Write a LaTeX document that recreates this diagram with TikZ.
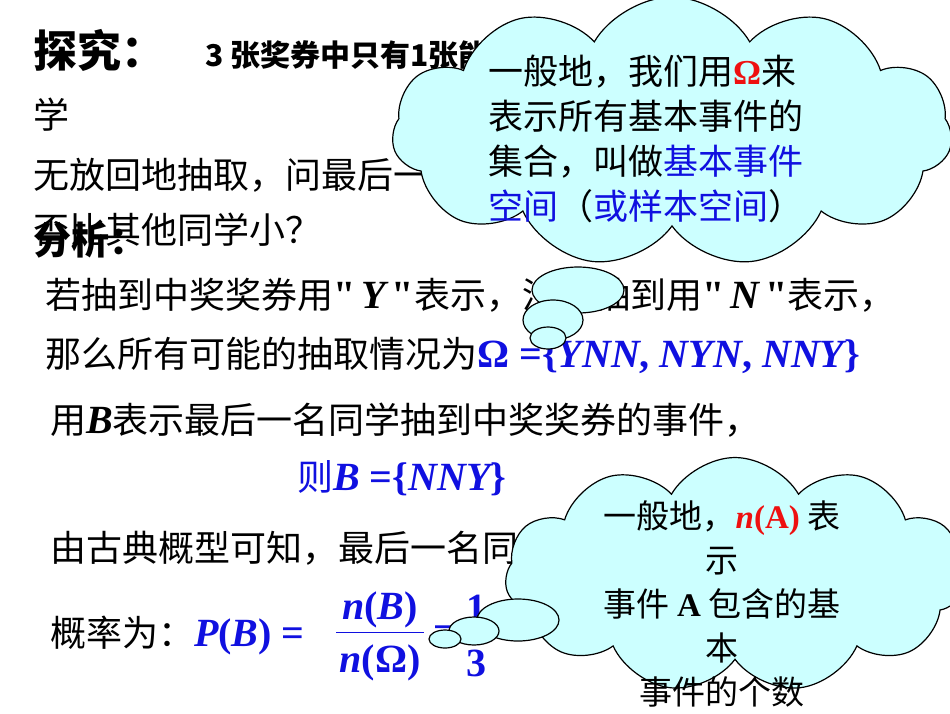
\documentclass[tikz,border=0pt]{standalone}
\usepackage{fontspec}
\setmainfont{Liberation Serif}
\newfontfamily\cjk{Noto Sans CJK SC}
\usetikzlibrary{shapes.symbols,shapes.geometric,calc}
\definecolor{cloudfill}{HTML}{CCFFFF}
\definecolor{myblue}{HTML}{1010E0}
\definecolor{myred}{HTML}{EE1010}
\tikzset{
  txt/.style={anchor=west,inner sep=0pt,font=\fontsize{36}{38}\selectfont\cjk},
  mtxt/.style={inner sep=0pt,text=myblue,font=\fontsize{40}{40}\selectfont\rmfamily\bfseries},
  cloudbox/.style={cloud,cloud puffs=11,cloud puff arc=120,draw=black,line width=1.2pt,fill=cloudfill,aspect=2},
  bubble/.style={ellipse,draw=black,line width=1.2pt,fill=cloudfill,inner sep=0pt},
  ctext/.style={align=center,inner sep=0pt,font=\fontsize{35}{45}\selectfont\cjk}
}
\newcommand{\mi}[1]{{\fontsize{40}{40}\selectfont\rmfamily\bfseries\itshape #1}}
\newcommand{\mr}[1]{{\fontsize{40}{40}\selectfont\rmfamily\bfseries #1}}
\newcommand{\qt}{{\fontsize{40}{40}\selectfont\rmfamily\bfseries\textquotedbl}}
\begin{document}
\begin{tikzpicture}[x=1pt,y=-1pt]
\useasboundingbox (0,0) rectangle (950,713);
\node[txt,font=\fontsize{44}{44}\selectfont\cjk\bfseries] (t0) at (33,50) {探究：};
\node[txt,font=\fontsize{30}{30}\selectfont\cjk\bfseries] (t1) at (205,56) {3 张奖券中只有1张能中奖，现分别由3名同};
\node[txt] (t2) at (33,115) {学};
\node[txt] (t3) at (33,175) {无放回地抽取，问最后一名同学抽到中奖};
\node[txt] (t4) at (33,230) {否比其他同学小？};
\node[txt,font=\fontsize{38}{38}\selectfont\cjk\bfseries] (t5) at (33,240) {分析：};
\node[txt] (t6) at (45,295) {若抽到中奖奖券用\qt\,\mi{Y}\,\qt 表示，没有抽到用\qt\,\mi{N}\,\qt 表示，};
\node[txt] (t7) at (45,355) {那么所有可能的抽取情况为\textcolor{myblue}{\mr{Ω =\{}\mi{YNN}\mr{, }\mi{NYN}\mr{, }\mi{NNY}\mr{\}}}};
\node[txt] (t8) at (50,420) {用\mi{B}表示最后一名同学抽到中奖奖券的事件，};
\node[txt,text=myblue] (t9) at (297,478) {则\mi{B}\mr{ =\{}\mi{NNY}\mr{\}}};
\node[txt] (t10) at (50,548) {由古典概型可知，最后一名同学抽到中奖};
\node[txt] (t11) at (50,635) {概率为：\textcolor{myblue}{\mi{P}\mr{(}\mi{B}\mr{) =}}};
\node[mtxt] (num) at (380,610) {\textit{n}(\textit{B})};
\node[mtxt] (den) at (380,663) {\textit{n}(Ω)};
\coordinate (fl) at ($(num.south west)+(-6,4)$);
\coordinate (fr) at ($(num.south east)+(6,4)$);
\draw[myblue,line width=1.2pt] (fl) -- (fr);
\node[mtxt] (eq2) at (445,635) {=};
\node[mtxt] (one) at (476,608) {1};
\node[mtxt] (three) at (476,663) {3};
% cloud 1
\node[cloudbox,minimum width=560,minimum height=270] (c1) at (672,132) {};
\node[bubble,minimum width=92,minimum height=46] (b1) at (578,290) {};
\node[bubble,minimum width=60,minimum height=40] (b2) at (553,320) {};
\node[bubble,minimum width=36,minimum height=22] (b3) at (548,338) {};
\node[ctext,anchor=north west,align=left] (c1t) at (488,55) {一般地，我们用\textcolor{myred}{\rmfamily\bfseries Ω}来\\表示所有基本事件的\\集合，叫做\textcolor{myblue}{基本事件}\\\textcolor{myblue}{空间}（\textcolor{myblue}{或样本空间}）};
% cloud 2
\node[cloudbox,minimum width=460,minimum height=235] (c2) at (735,575) {};
\node[bubble,minimum width=82,minimum height=42] (b4) at (518,620) {};
\node[bubble,minimum width=50,minimum height=28] (b5) at (474,631) {};
\node[bubble,minimum width=32,minimum height=18] (b6) at (445,639) {};
\node[ctext,anchor=north,font=\fontsize{33}{44}\selectfont\cjk] (c2t) at (722,500) {一般地，\textcolor{myred}{\rmfamily\textbf{\textit{n}(A)}} 表\\示\\事件 \textbf{\rmfamily A} 包含的基\\本\\事件的个数};
\end{tikzpicture}
\end{document}
